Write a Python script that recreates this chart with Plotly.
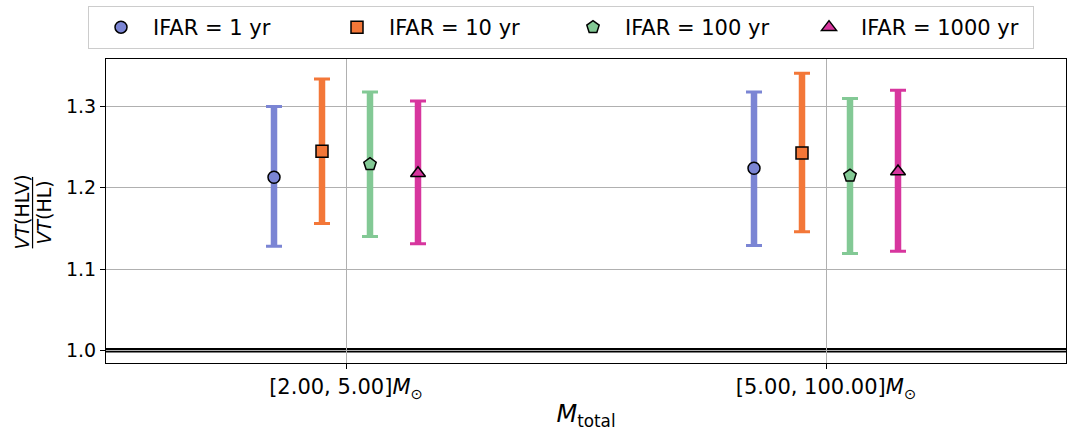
import plotly.graph_objects as go

categories = ["[2.00, 5.00]<i>M</i><sub>⊙</sub>", "[5.00, 100.00]<i>M</i><sub>⊙</sub>"]
series_names = ["IFAR = 1 yr", "IFAR = 10 yr", "IFAR = 100 yr", "IFAR = 1000 yr"]
ifar1_mid = [1.213, 1.224]
ifar1_lo = [1.128, 1.129]
ifar1_hi = [1.300, 1.318]
ifar10_mid = [1.245, 1.243]
ifar10_lo = [1.156, 1.146]
ifar10_hi = [1.334, 1.341]
ifar100_mid = [1.229, 1.215]
ifar100_lo = [1.140, 1.119]
ifar100_hi = [1.318, 1.310]
ifar1000_mid = [1.218, 1.220]
ifar1000_lo = [1.131, 1.122]
ifar1000_hi = [1.307, 1.320]
reference_value = 1.0

mids = [ifar1_mid, ifar10_mid, ifar100_mid, ifar1000_mid]
los = [ifar1_lo, ifar10_lo, ifar100_lo, ifar1000_lo]
his = [ifar1_hi, ifar10_hi, ifar100_hi, ifar1000_hi]
colors = ["#7b85d4", "#f37738", "#83c995", "#d7369e"]
symbols = ["circle", "square", "pentagon", "triangle-up"]
msizes = [12, 12, 13, 13]
offsets = [-0.15, -0.05, 0.05, 0.15]

FONT = "DejaVu Sans"
fig = go.Figure()

for k in range(4):
    xs = [i + offsets[k] for i in range(len(categories))]
    up = [h - m for h, m in zip(his[k], mids[k])]
    dn = [m - l for m, l in zip(mids[k], los[k])]
    # caps (thin)
    fig.add_trace(go.Scatter(
        x=xs, y=mids[k], mode="markers", showlegend=False, hoverinfo="skip",
        marker=dict(size=1, color="rgba(0,0,0,0)"),
        error_y=dict(type="data", symmetric=False, array=up, arrayminus=dn,
                     color=colors[k], thickness=3, width=8),
    ))
    # thick bars + markers
    fig.add_trace(go.Scatter(
        x=xs, y=mids[k], mode="markers", name=series_names[k],
        marker=dict(symbol=symbols[k], size=msizes[k], color=colors[k],
                    line=dict(color="black", width=1.5)),
        error_y=dict(type="data", symmetric=False, array=up, arrayminus=dn,
                     color=colors[k], thickness=6.5, width=0),
    ))

fig.add_shape(type="line", xref="paper", yref="y", x0=0, x1=1,
              y0=reference_value, y1=reference_value,
              line=dict(color="black", width=4.5), layer="below")

# y-axis fraction label
fig.add_annotation(xref="paper", yref="paper", x=-0.0875, y=0.495,
                   xanchor="center", yanchor="middle",
                   text="<i>VT</i>(HLV)", textangle=-90, showarrow=False,
                   font=dict(family=FONT, size=19, color="black"))
fig.add_annotation(xref="paper", yref="paper", x=-0.0656, y=0.495,
                   xanchor="center", yanchor="middle",
                   text="<i>VT</i>(HL)", textangle=-90, showarrow=False,
                   font=dict(family=FONT, size=19, color="black"))
fig.add_shape(type="line", xref="paper", yref="paper", x0=-0.0765, x1=-0.0765,
              y0=0.377, y1=0.612, line=dict(color="black", width=1.2))

fig.update_layout(
    width=1078, height=435,
    margin=dict(l=106, r=12, t=59, b=72, autoexpand=False),
    paper_bgcolor="white", plot_bgcolor="white",
    font=dict(family=FONT, size=17, color="black"),
    showlegend=True,
    legend=dict(orientation="h", x=88 / 1078, xref="container", xanchor="left",
                y=1 - 6 / 435, yref="container", yanchor="top",
                bgcolor="white", bordercolor="#cccccc", borderwidth=1,
                font=dict(family=FONT, size=21, color="black"),
                itemwidth=54,
                entrywidth=167, entrywidthmode="pixels"),
    xaxis=dict(range=[-0.5, 1.5], tickvals=[0, 1], ticktext=categories,
               showgrid=True, gridcolor="#b0b0b0", gridwidth=1,
               showline=True, linecolor="black", linewidth=1.2, mirror=True,
               ticks="outside", ticklen=5, tickcolor="black", zeroline=False,
               tickfont=dict(size=21), automargin=False,
               title=dict(text="<i>M</i><sub>total</sub>", font=dict(size=24), standoff=4)),
    yaxis=dict(range=[0.9843, 1.3586], tickvals=[1.0, 1.1, 1.2, 1.3],
               ticktext=["1.0", "1.1", "1.2", "1.3"],
               showgrid=True, gridcolor="#b0b0b0", gridwidth=1,
               showline=True, linecolor="black", linewidth=1.2, mirror=True,
               ticks="outside", ticklen=5, tickcolor="black", zeroline=False,
               tickfont=dict(size=19), automargin=False),
)

fig.write_html("out.html")
